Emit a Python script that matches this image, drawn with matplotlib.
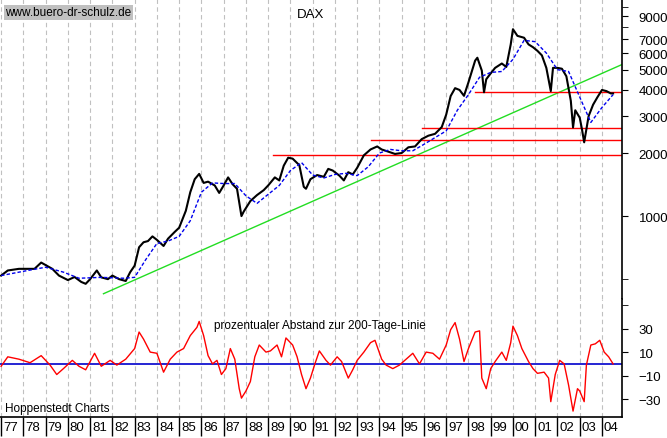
import matplotlib
matplotlib.use("Agg")
import matplotlib.pyplot as plt
import matplotlib.transforms as mtrans
from matplotlib.ticker import FixedLocator, NullFormatter

plt.rcParams['font.family'] = 'Liberation Sans'

dax_years = [1977.0,1977.3,1977.8,1978.5,1978.8,1979.3,1979.6,1980.0,1980.3,1980.6,1980.8,1981.0,1981.3,1981.5,1981.8,
 1982.0,1982.3,1982.6,1982.8,1983.0,1983.2,1983.4,1983.6,1983.8,1984.0,1984.3,1984.5,1984.8,1985.0,1985.3,1985.5,1985.7,
 1985.9,1986.1,1986.3,1986.6,1986.8,1987.0,1987.2,1987.4,1987.6,1987.8,1987.9,1988.2,1988.5,1988.8,1989.0,1989.3,1989.5,
 1989.7,1989.9,1990.1,1990.4,1990.6,1990.7,1990.9,1991.2,1991.5,1991.7,1991.9,1992.2,1992.4,1992.6,1992.8,1993.0,1993.3,
 1993.6,1993.9,1994.1,1994.4,1994.7,1995.0,1995.3,1995.6,1995.9,1996.2,1996.5,1996.8,1997.0,1997.2,1997.4,1997.6,1997.8,
 1998.0,1998.3,1998.4,1998.6,1998.7,1998.8,1999.0,1999.2,1999.5,1999.7,1999.9,2000.0,2000.2,2000.5,2000.7,2000.9,2001.1,
 2001.3,2001.5,2001.7,2001.8,2002.0,2002.2,2002.4,2002.6,2002.7,2002.8,2003.0,2003.1,2003.2,2003.4,2003.6,2003.8,2004.0,
 2004.2,2004.4,2004.5]
dax_values = [520,550,560,560,600,560,520,495,512,485,475,500,550,510,500,
 520,500,490,540,580,710,750,760,800,770,720,780,840,880,1060,1300,1500,
 1590,1440,1460,1400,1290,1400,1530,1420,1350,1000,1050,1180,1260,1330,1400,1530,1480,
 1740,1900,1880,1750,1380,1350,1500,1570,1540,1680,1650,1560,1480,1620,1580,1700,1950,
 2080,2150,2080,2030,1980,2000,2130,2150,2330,2420,2470,2660,3050,3740,4080,4000,3750,
 4350,5520,5700,4950,3900,4500,4800,5100,5350,5150,6600,7800,7250,7100,6600,6400,6150,
 5850,5100,3950,5100,5100,5050,4650,3550,2650,3200,2950,2600,2250,3000,3400,3700,4000,
 3950,3850,3850]

ma_years = [1977.0,1978.0,1979.0,1979.8,1980.5,1981.5,1982.5,1983.0,1983.5,1984.0,1984.5,1985.0,1985.5,1986.0,1986.5,
 1987.0,1987.5,1988.0,1988.5,1989.0,1989.5,1990.0,1990.5,1991.0,1991.5,1992.0,1992.5,1993.0,1993.5,1994.0,1994.5,1995.0,
 1995.5,1996.0,1996.5,1997.0,1997.5,1998.0,1998.5,1999.0,1999.5,2000.0,2000.5,2001.0,2001.5,2002.0,2002.5,2003.0,2003.5,
 2004.0,2004.5]
ma_values = [520,545,570,540,505,510,505,510,620,740,760,800,950,1300,1440,
 1430,1430,1250,1150,1270,1400,1650,1800,1570,1520,1580,1600,1560,1720,2000,2080,2050,
 2050,2200,2370,2550,3200,3800,4600,4850,4900,5600,6900,6800,6000,5000,4900,3700,2800,
 3300,3800]

dev_years = [1977.0,1977.3,1977.8,1978.3,1978.8,1979.2,1979.5,1979.8,1980.2,1980.5,1980.8,1981.2,1981.5,1981.9,1982.2,
 1982.6,1983.0,1983.2,1983.4,1983.7,1984.0,1984.3,1984.6,1984.9,1985.2,1985.5,1985.8,1985.9,1986.1,1986.3,1986.5,1986.7,
 1986.9,1987.1,1987.3,1987.5,1987.7,1987.8,1988.0,1988.2,1988.4,1988.6,1988.9,1989.1,1989.4,1989.6,1989.8,1990.1,1990.3,
 1990.5,1990.7,1990.9,1991.1,1991.3,1991.6,1991.8,1992.1,1992.3,1992.6,1992.8,1993.0,1993.3,1993.6,1993.8,1994.1,1994.3,
 1994.6,1994.9,1995.2,1995.5,1995.8,1996.1,1996.4,1996.7,1997.0,1997.2,1997.4,1997.6,1997.8,1998.0,1998.3,1998.5,1998.6,
 1998.8,1999.0,1999.2,1999.5,1999.7,1999.9,2000.0,2000.2,2000.4,2000.7,2000.9,2001.1,2001.4,2001.6,2001.7,2001.9,2002.1,
 2002.3,2002.5,2002.6,2002.7,2002.9,2003.0,2003.2,2003.3,2003.5,2003.7,2003.9,2004.1,2004.3,2004.5]
dev_values = [-2,6,4,1,7,-1,-9,-4,3,-2,-5,9,-2,3,-1,
 4,13,27,21,10,9,-7,4,10,13,24,31,36,24,7,0,3,
 -9,-4,13,4,-21,-29,-23,-15,6,16,10,11,16,6,22,16,6,
 -9,-21,-12,0,11,3,-1,6,2,-12,-5,3,10,18,20,4,-1,
 -4,-1,4,9,0,10,9,4,16,29,35,21,2,13,27,28,-12,
 -21,-4,2,10,3,18,32,24,13,2,-4,-8,-7,-12,-32,-9,3,
 0,-18,-29,-40,-21,-23,-32,-1,16,17,20,10,6,0]

trend_years = [1981.6, 2004.9]
trend_values = [426, 5290]
support_levels = [1960, 2300, 2625, 3905]
support_start = [1989.2, 1993.6, 1995.9, 1998.3]

year_ticks = list(range(1977, 2005))
year_labels = ["%02d" % (y % 100) for y in year_ticks]

fig = plt.figure(figsize=(6.67, 4.39), dpi=100)
W, H = 667, 439
xl, xr = 1976.95, 2004.9
ax = fig.add_axes([0, 1 - 300 / H, 622 / W, 300 / H])
ax2 = fig.add_axes([0, 1 - 418 / H, 622 / W, 118 / H])

for a in (ax, ax2):
    a.set_xlim(xl, xr)
    for y in year_ticks:
        a.axvline(y, color='#c0c0c0', lw=0.8, ls=(0, (4, 3)), zorder=0)
    for s in ['left', 'top']:
        a.spines[s].set_visible(False)
    a.spines['right'].set_linewidth(1.2)
    a.yaxis.tick_right()
    a.tick_params(axis='y', labelsize=9.5, length=4, pad=8)

ax.set_yscale('log')
ax.set_ylim(402, 10870)
ax.plot(dax_years, dax_values, color='black', lw=1.5, zorder=3)
ax.plot(ma_years, ma_values, color='#0000ee', lw=1.0, ls=(0, (2.5, 1.5)), zorder=4)
ax.plot(trend_years, trend_values, color='#22dd22', lw=1.0, zorder=2)
for lvl, st in zip(support_levels, support_start):
    ax.plot([st, xr], [lvl, lvl], color='red', lw=1.0, zorder=2)
ax.yaxis.set_major_locator(FixedLocator([1000, 2000, 3000, 4000, 5000, 6000, 7000, 9000]))
ax.yaxis.set_major_formatter(matplotlib.ticker.FuncFormatter(lambda v, p: "%d" % v))
ax.yaxis.set_minor_locator(FixedLocator([500, 8000, 10000]))
ax.yaxis.set_minor_formatter(NullFormatter())
ax.tick_params(axis='y', which='minor', length=4)
ax.set_xticks([])
ax.spines['bottom'].set_visible(False)
ax.text(311 / 622, 1 - 15 / 300, "DAX", transform=ax.transAxes, fontsize=9.5, ha='center', va='center')
ax.text(0.008, 0.955, "www.buero-dr-schulz.de", transform=ax.transAxes, fontsize=8.5,
        va='center', ha='left', bbox=dict(facecolor='#c0c0c0', edgecolor='none', pad=1))

ax2.set_ylim(-45, 55)
ax2.plot(dev_years, dev_values, color='red', lw=1.0, zorder=3)
ax2.axhline(0, color='#0000cc', lw=1.2, zorder=2)
ax2.yaxis.set_major_locator(FixedLocator([30, 10, -10, -30]))
ax2.yaxis.set_minor_locator(FixedLocator([50, -50]))
ax2.tick_params(axis='y', which='minor', length=4)
ax2.set_xticks(year_ticks)
ax2.set_xticklabels(year_labels, ha='left', fontsize=9.5)
ax2.tick_params(axis='x', length=14, width=1.0, pad=-11, direction='out')
off = mtrans.ScaledTranslation(2 / 100, 0, fig.dpi_scale_trans)
for lab in ax2.get_xticklabels():
    lab.set_transform(lab.get_transform() + off)
ax2.spines['bottom'].set_linewidth(1.2)
ax2.text(0.515, 0.78, "prozentualer Abstand zur 200-Tage-Linie", transform=ax2.transAxes,
         fontsize=8.5, ha='center', va='center')
ax2.text(0.008, 0.08, "Hoppenstedt Charts", transform=ax2.transAxes, fontsize=8.5, ha='left', va='center')

fig.savefig("out.png", dpi=100, facecolor='white')
